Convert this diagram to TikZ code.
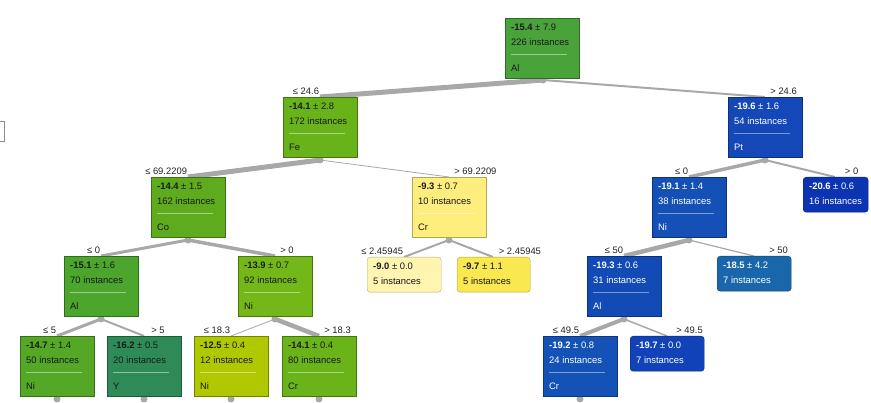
\documentclass[tikz,border=0pt]{standalone}
\usepackage{fontspec}
\setmainfont{Liberation Sans}
\usetikzlibrary{calc}
\definecolor{edgegray}{HTML}{A8A8A8}
\definecolor{labtext}{HTML}{222222}
\definecolor{cRoot}{HTML}{4AA33A}
\definecolor{cFe}{HTML}{68B21A}
\definecolor{cCo}{HTML}{5EAC1E}
\definecolor{cAlA}{HTML}{4CA52D}
\definecolor{cNiB}{HTML}{73B718}
\definecolor{cNiC}{HTML}{54A826}
\definecolor{cY}{HTML}{2E8B57}
\definecolor{cNiD}{HTML}{B0C800}
\definecolor{cCrA}{HTML}{6AB41A}
\definecolor{cCrY}{HTML}{FDEE7E}
\definecolor{cLa}{HTML}{FFF4B0}
\definecolor{cLb}{HTML}{F9E850}
\definecolor{cPt}{HTML}{1447B8}
\definecolor{cNiE}{HTML}{1450B6}
\definecolor{cLc}{HTML}{0C34B2}
\definecolor{cAlB}{HTML}{124AB6}
\definecolor{cLd}{HTML}{1966AA}
\definecolor{cCrB}{HTML}{1452B8}
\definecolor{cLe}{HTML}{1142B8}
\tikzset{
  every node/.style={font=\fontsize{9.4}{11}\selectfont},
  gbox/.style={fill=#1, draw=#1!65!black, text=black!90},
  ybox/.style={fill=#1, draw=#1!70!black, text=black!90},
  bbox/.style={fill=#1, draw=#1!65!black, text=white},
  edge/.style={draw=edgegray},
  dotnode/.style={circle, fill=edgegray, inner sep=0pt, minimum size=7pt},
  condl/.style={anchor=south east, inner sep=1pt, text=labtext},
  condr/.style={anchor=south west, inner sep=1pt, text=labtext},
  sep/.style={draw=white, opacity=0.45, line width=1pt}
}
% internal node: name, x, y, colour style, mean, sd, n, attribute
\newcommand\ibox[8]{%
  \node[#4, anchor=north west, minimum width=74pt, minimum height=60pt, inner sep=0pt] (#1) at (#2,#3) {};
  \node[#4, fill=none, draw=none, anchor=west, inner sep=0pt] (#1-t1) at ($(#1.north west)+(6,9)$) {\textbf{#5} ± #6};
  \node[#4, fill=none, draw=none, anchor=west, inner sep=0pt] (#1-t2) at ($(#1.north west)+(6,24)$) {#7 instances};
  \draw[sep] ($(#1.north west)+(6,37)$) -- ($(#1.north west)+(62,37)$);
  \node[#4, fill=none, draw=none, anchor=west, inner sep=0pt] (#1-t3) at ($(#1.north west)+(6,50)$) {#8};
}
% leaf node: name, x, y, colour style, mean, sd, n, width
\newcommand\lbox[8]{%
  \node[#4, anchor=north west, minimum width=#8pt, minimum height=35pt, inner sep=0pt, rounded corners=3pt] (#1) at (#2,#3) {};
  \node[#4, fill=none, draw=none, anchor=west, inner sep=0pt] (#1-t1) at ($(#1.north west)+(6,9)$) {\textbf{#5} ± #6};
  \node[#4, fill=none, draw=none, anchor=west, inner sep=0pt] (#1-t2) at ($(#1.north west)+(6,24)$) {#7 instances};
}
\begin{document}
\begin{tikzpicture}[x=1pt, y=-1pt]
\useasboundingbox (0,0) rectangle (871,403);
\draw[draw=black!45, fill=white] (-3,121) rectangle (4,141);
% dot coordinates (bottom centres of split nodes)
\coordinate (d-root) at (543,80);
\coordinate (d-fe) at (320,160);
\coordinate (d-pt) at (765,160);
\coordinate (d-co) at (188,240);
\coordinate (d-cr) at (449,240);
\coordinate (d-ni38) at (689,240);
\coordinate (d-al70) at (101,319);
\coordinate (d-ni92) at (275,319);
\coordinate (d-al31) at (624,319);
\coordinate (d-ni50) at (57,399);
\coordinate (d-y) at (144,399);
\coordinate (d-ni12) at (231,399);
\coordinate (d-cr80) at (319,399);
\coordinate (d-cr24) at (580,399);
% edges
\coordinate (t-fe) at (320,97);
\coordinate (t-pt) at (765,97);
\coordinate (t-co) at (188,177);
\coordinate (t-cr) at (449,177);
\coordinate (t-ni38) at (689,177);
\coordinate (t-l206) at (835,177);
\coordinate (t-al70) at (101,256);
\coordinate (t-ni92) at (275,256);
\coordinate (t-la) at (404,257);
\coordinate (t-lb) at (493,257);
\coordinate (t-al31) at (624,256);
\coordinate (t-ld) at (754,256);
\coordinate (t-ni50) at (57,336);
\coordinate (t-y) at (144,336);
\coordinate (t-ni12) at (231,336);
\coordinate (t-cr80) at (319,336);
\coordinate (t-cr24) at (580,336);
\coordinate (t-le) at (667,336);
\draw[edge, line width=5pt] (d-root) -- (t-fe);
\draw[edge, line width=2pt] (d-root) -- (t-pt);
\draw[edge, line width=5pt] (d-fe) -- (t-co);
\draw[edge, line width=0.8pt] (d-fe) -- (t-cr);
\draw[edge, line width=3pt] (d-co) -- (t-al70);
\draw[edge, line width=3.5pt] (d-co) -- (t-ni92);
\draw[edge, line width=2pt] (d-cr) -- (t-la);
\draw[edge, line width=2pt] (d-cr) -- (t-lb);
\draw[edge, line width=3.5pt] (d-pt) -- (t-ni38);
\draw[edge, line width=2pt] (d-pt) -- (t-l206);
\draw[edge, line width=4.5pt] (d-ni38) -- (t-al31);
\draw[edge, line width=1.2pt] (d-ni38) -- (t-ld);
\draw[edge, line width=3pt] (d-al70) -- (t-ni50);
\draw[edge, line width=2pt] (d-al70) -- (t-y);
\draw[edge, line width=0.8pt] (d-ni92) -- (t-ni12);
\draw[edge, line width=4.5pt] (d-ni92) -- (t-cr80);
\draw[edge, line width=4pt] (d-al31) -- (t-cr24);
\draw[edge, line width=1.5pt] (d-al31) -- (t-le);
% dots
\foreach \d in {root,fe,pt,co,cr,ni38,al70,ni92,al31,ni50,y,ni12,cr80,cr24}
  \node[dotnode] at (d-\d) {};
% boxes
\ibox{root}{505}{18}{gbox=cRoot}{-15.4}{7.9}{226}{Al}
\ibox{fe}{283}{97}{gbox=cFe}{-14.1}{2.8}{172}{Fe}
\ibox{pt}{728}{97}{bbox=cPt}{-19.6}{1.6}{54}{Pt}
\ibox{co}{151}{177}{gbox=cCo}{-14.4}{1.5}{162}{Co}
\ibox{cr}{412}{177}{ybox=cCrY}{-9.3}{0.7}{10}{Cr}
\ibox{ni38}{652}{177}{bbox=cNiE}{-19.1}{1.4}{38}{Ni}
\lbox{l206}{803}{177}{bbox=cLc}{-20.6}{0.6}{16}{65}
\ibox{al70}{64}{256}{gbox=cAlA}{-15.1}{1.6}{70}{Al}
\ibox{ni92}{238}{256}{gbox=cNiB}{-13.9}{0.7}{92}{Ni}
\lbox{la}{367}{257}{ybox=cLa}{-9.0}{0.0}{5}{74}
\lbox{lb}{457}{257}{ybox=cLb}{-9.7}{1.1}{5}{73}
\ibox{al31}{587}{256}{bbox=cAlB}{-19.3}{0.6}{31}{Al}
\lbox{ld}{717}{256}{bbox=cLd}{-18.5}{4.2}{7}{74}
\ibox{ni50}{20}{336}{gbox=cNiC}{-14.7}{1.4}{50}{Ni}
\ibox{y}{107}{336}{gbox=cY}{-16.2}{0.5}{20}{Y}
\ibox{ni12}{194}{336}{gbox=cNiD}{-12.5}{0.4}{12}{Ni}
\ibox{cr80}{282}{336}{gbox=cCrA}{-14.1}{0.4}{80}{Cr}
\ibox{cr24}{543}{336}{bbox=cCrB}{-19.2}{0.8}{24}{Cr}
\lbox{le}{630}{336}{bbox=cLe}{-19.7}{0.0}{7}{74}
% condition labels
\node[condl] at ($(fe.north)+(0,-1)$) {≤ 24.6};
\node[condr] at ($(pt.north)+(4,-1)$) {> 24.6};
\node[condl] at ($(co.north)+(0,-1)$) {≤ 69.2209};
\node[condr] at ($(cr.north)+(4,-1)$) {> 69.2209};
\node[condl] at ($(ni38.north)+(0,-1)$) {≤ 0};
\node[condr] at ($(l206.north)+(8,-1)$) {> 0};
\node[condl] at ($(al70.north)+(0,-1)$) {≤ 0};
\node[condr] at ($(ni92.north)+(4,-1)$) {> 0};
\node[condl] at ($(la.north)+(0,-1)$) {≤ 2.45945};
\node[condr] at ($(lb.north)+(4,-1)$) {> 2.45945};
\node[condl] at ($(al31.north)+(0,-1)$) {≤ 50};
\node[condr] at ($(ld.north)+(14,-1)$) {> 50};
\node[condl] at ($(ni50.north)+(0,-1)$) {≤ 5};
\node[condr] at ($(y.north)+(6,-1)$) {> 5};
\node[condl] at ($(ni12.north)+(0,-1)$) {≤ 18.3};
\node[condr] at ($(cr80.north)+(4,-1)$) {> 18.3};
\node[condl] at ($(cr24.north)+(0,-1)$) {≤ 49.5};
\node[condr] at ($(le.north)+(8,-1)$) {> 49.5};
\end{tikzpicture}
\end{document}
